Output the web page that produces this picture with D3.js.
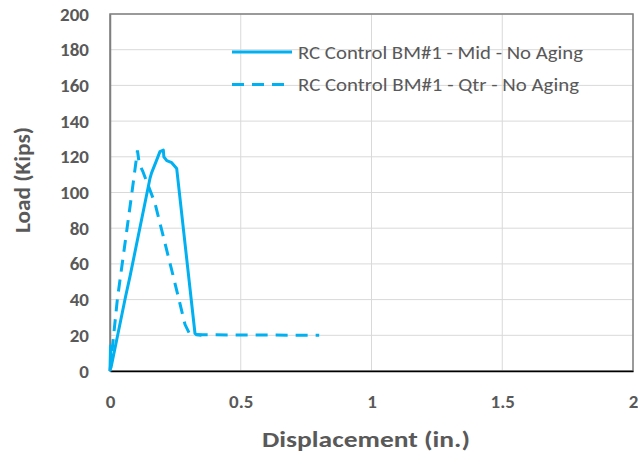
<!DOCTYPE html>
<html>
  <head>
    <meta charset="utf-8">
    <script type="text/javascript" src="https://d3js.org/d3.v7.min.js"></script>
    <style>
      body { margin: 0; background: #fff; }
      text { font-family: Calibri, Carlito, Lato, sans-serif; fill: #595959; }
    </style>
  </head>
  <body>
    <script type="text/javascript">
        // data
        var midDisp = [0, 0.002, 0.004, 0.06, 0.0765, 0.153, 0.159, 0.178, 0.191, 0.204, 0.206, 0.217, 0.236, 0.255, 0.325, 0.33, 0.35];
        var midLoad = [0, 14, 2, 42, 53, 108, 111, 118, 122.9, 123.8, 120, 117.8, 116.7, 113.5, 21, 20.5, 20];
        var qtrDisp = [0, 0.028, 0.083, 0.105, 0.112, 0.125, 0.172, 0.242, 0.287, 0.306, 0.8];
        var qtrLoad = [0, 40, 99, 123.5, 116, 112, 94, 53, 26, 20.3, 20];
        var seriesNames = ["RC Control BM#1 - Mid - No Aging", "RC Control BM#1 - Qtr - No Aging"];
        var xTicks = [0, 0.5, 1, 1.5, 2];
        var yTicks = [0, 20, 40, 60, 80, 100, 120, 140, 160, 180, 200];

        var width = 638, height = 456;
        var margin = {top: 14, right: 5, bottom: 85, left: 110};
        var w = width - margin.left - margin.right,
            h = height - margin.top - margin.bottom;
        var blue = "#00B0F0";

        var svg = d3.select("body").append("svg")
                    .attr("width", width)
                    .attr("height", height);
        var g = svg.append("g")
                    .attr("transform", "translate(" + margin.left + "," + margin.top + ")");

        var x = d3.scaleLinear().domain([0, 2]).range([0, w]);
        var y = d3.scaleLinear().domain([0, 200]).range([h, 0]);

        //gridlines
        g.append("g").selectAll("line").data(yTicks).enter().append("line")
            .attr("x1", 0).attr("x2", w)
            .attr("y1", d => y(d)).attr("y2", d => y(d))
            .attr("stroke", "#d9d9d9").attr("stroke-width", 1);
        g.append("g").selectAll("line").data(xTicks).enter().append("line")
            .attr("y1", 0).attr("y2", h)
            .attr("x1", d => x(d)).attr("x2", d => x(d))
            .attr("stroke", "#d9d9d9").attr("stroke-width", 1);

        //plot border
        g.append("rect")
            .attr("width", w).attr("height", h)
            .attr("fill", "none").attr("stroke", "#7f7f7f").attr("stroke-width", 1.5);

        //axes
        var xAxis = g.append("g")
            .attr("transform", "translate(0," + h + ")")
            .call(d3.axisBottom(x).tickValues(xTicks).tickSize(0).tickPadding(24).tickFormat(d3.format("")));
        xAxis.select(".domain").attr("stroke", "#000").attr("stroke-width", 1.5);
        var yAxis = g.append("g")
            .call(d3.axisLeft(y).tickValues(yTicks).tickSize(0).tickPadding(21));
        yAxis.select(".domain").attr("stroke", "#7f7f7f").attr("stroke-width", 1.5);
        g.selectAll(".tick text")
            .attr("font-family", "Calibri, Carlito, Lato, sans-serif")
            .attr("font-size", 19).attr("font-weight", "bold").attr("fill", "#595959");

        //axis titles
        svg.append("text")
            .attr("x", 366).attr("y", 439)
            .attr("text-anchor", "middle").attr("dominant-baseline", "central")
            .attr("font-size", 22).attr("font-weight", "bold")
            .attr("textLength", 208).attr("lengthAdjust", "spacingAndGlyphs")
            .text("Displacement (in.)");
        svg.append("text")
            .attr("transform", "translate(22,180) rotate(-90)")
            .attr("text-anchor", "middle").attr("dominant-baseline", "central")
            .attr("font-size", 22).attr("font-weight", "bold")
            .attr("textLength", 106).attr("lengthAdjust", "spacingAndGlyphs")
            .text("Load (Kips)");

        //lines
        var line = d3.line().x(d => x(d[0])).y(d => y(d[1]));
        var mid = midDisp.map((d, i) => [d, midLoad[i]]);
        var qtr = qtrDisp.map((d, i) => [d, qtrLoad[i]]);

        g.append("path").datum(qtr)
            .attr("fill", "none").attr("stroke", blue).attr("stroke-width", 3)
            .attr("stroke-dasharray", "12,8")
            .attr("d", line);
        g.append("path").datum(mid)
            .attr("fill", "none").attr("stroke", blue).attr("stroke-width", 3)
            .attr("stroke-linejoin", "round")
            .attr("d", line);

        //legend
        var legend = svg.append("g").attr("transform", "translate(232,52)");
        seriesNames.forEach(function(name, i) {
            var row = legend.append("g").attr("transform", "translate(0," + (i * 32.5) + ")");
            row.append("line")
                .attr("x1", 0).attr("x2", 60)
                .attr("stroke", blue).attr("stroke-width", 3)
                .attr("stroke-dasharray", i === 1 ? "12,8" : null);
            row.append("text")
                .attr("x", 66).attr("y", 0)
                .attr("dominant-baseline", "central")
                .attr("font-size", 19)
                .attr("textLength", i === 0 ? 285 : 281).attr("lengthAdjust", "spacingAndGlyphs")
                .text(name);
        });
    </script>
  </body>
</html>
